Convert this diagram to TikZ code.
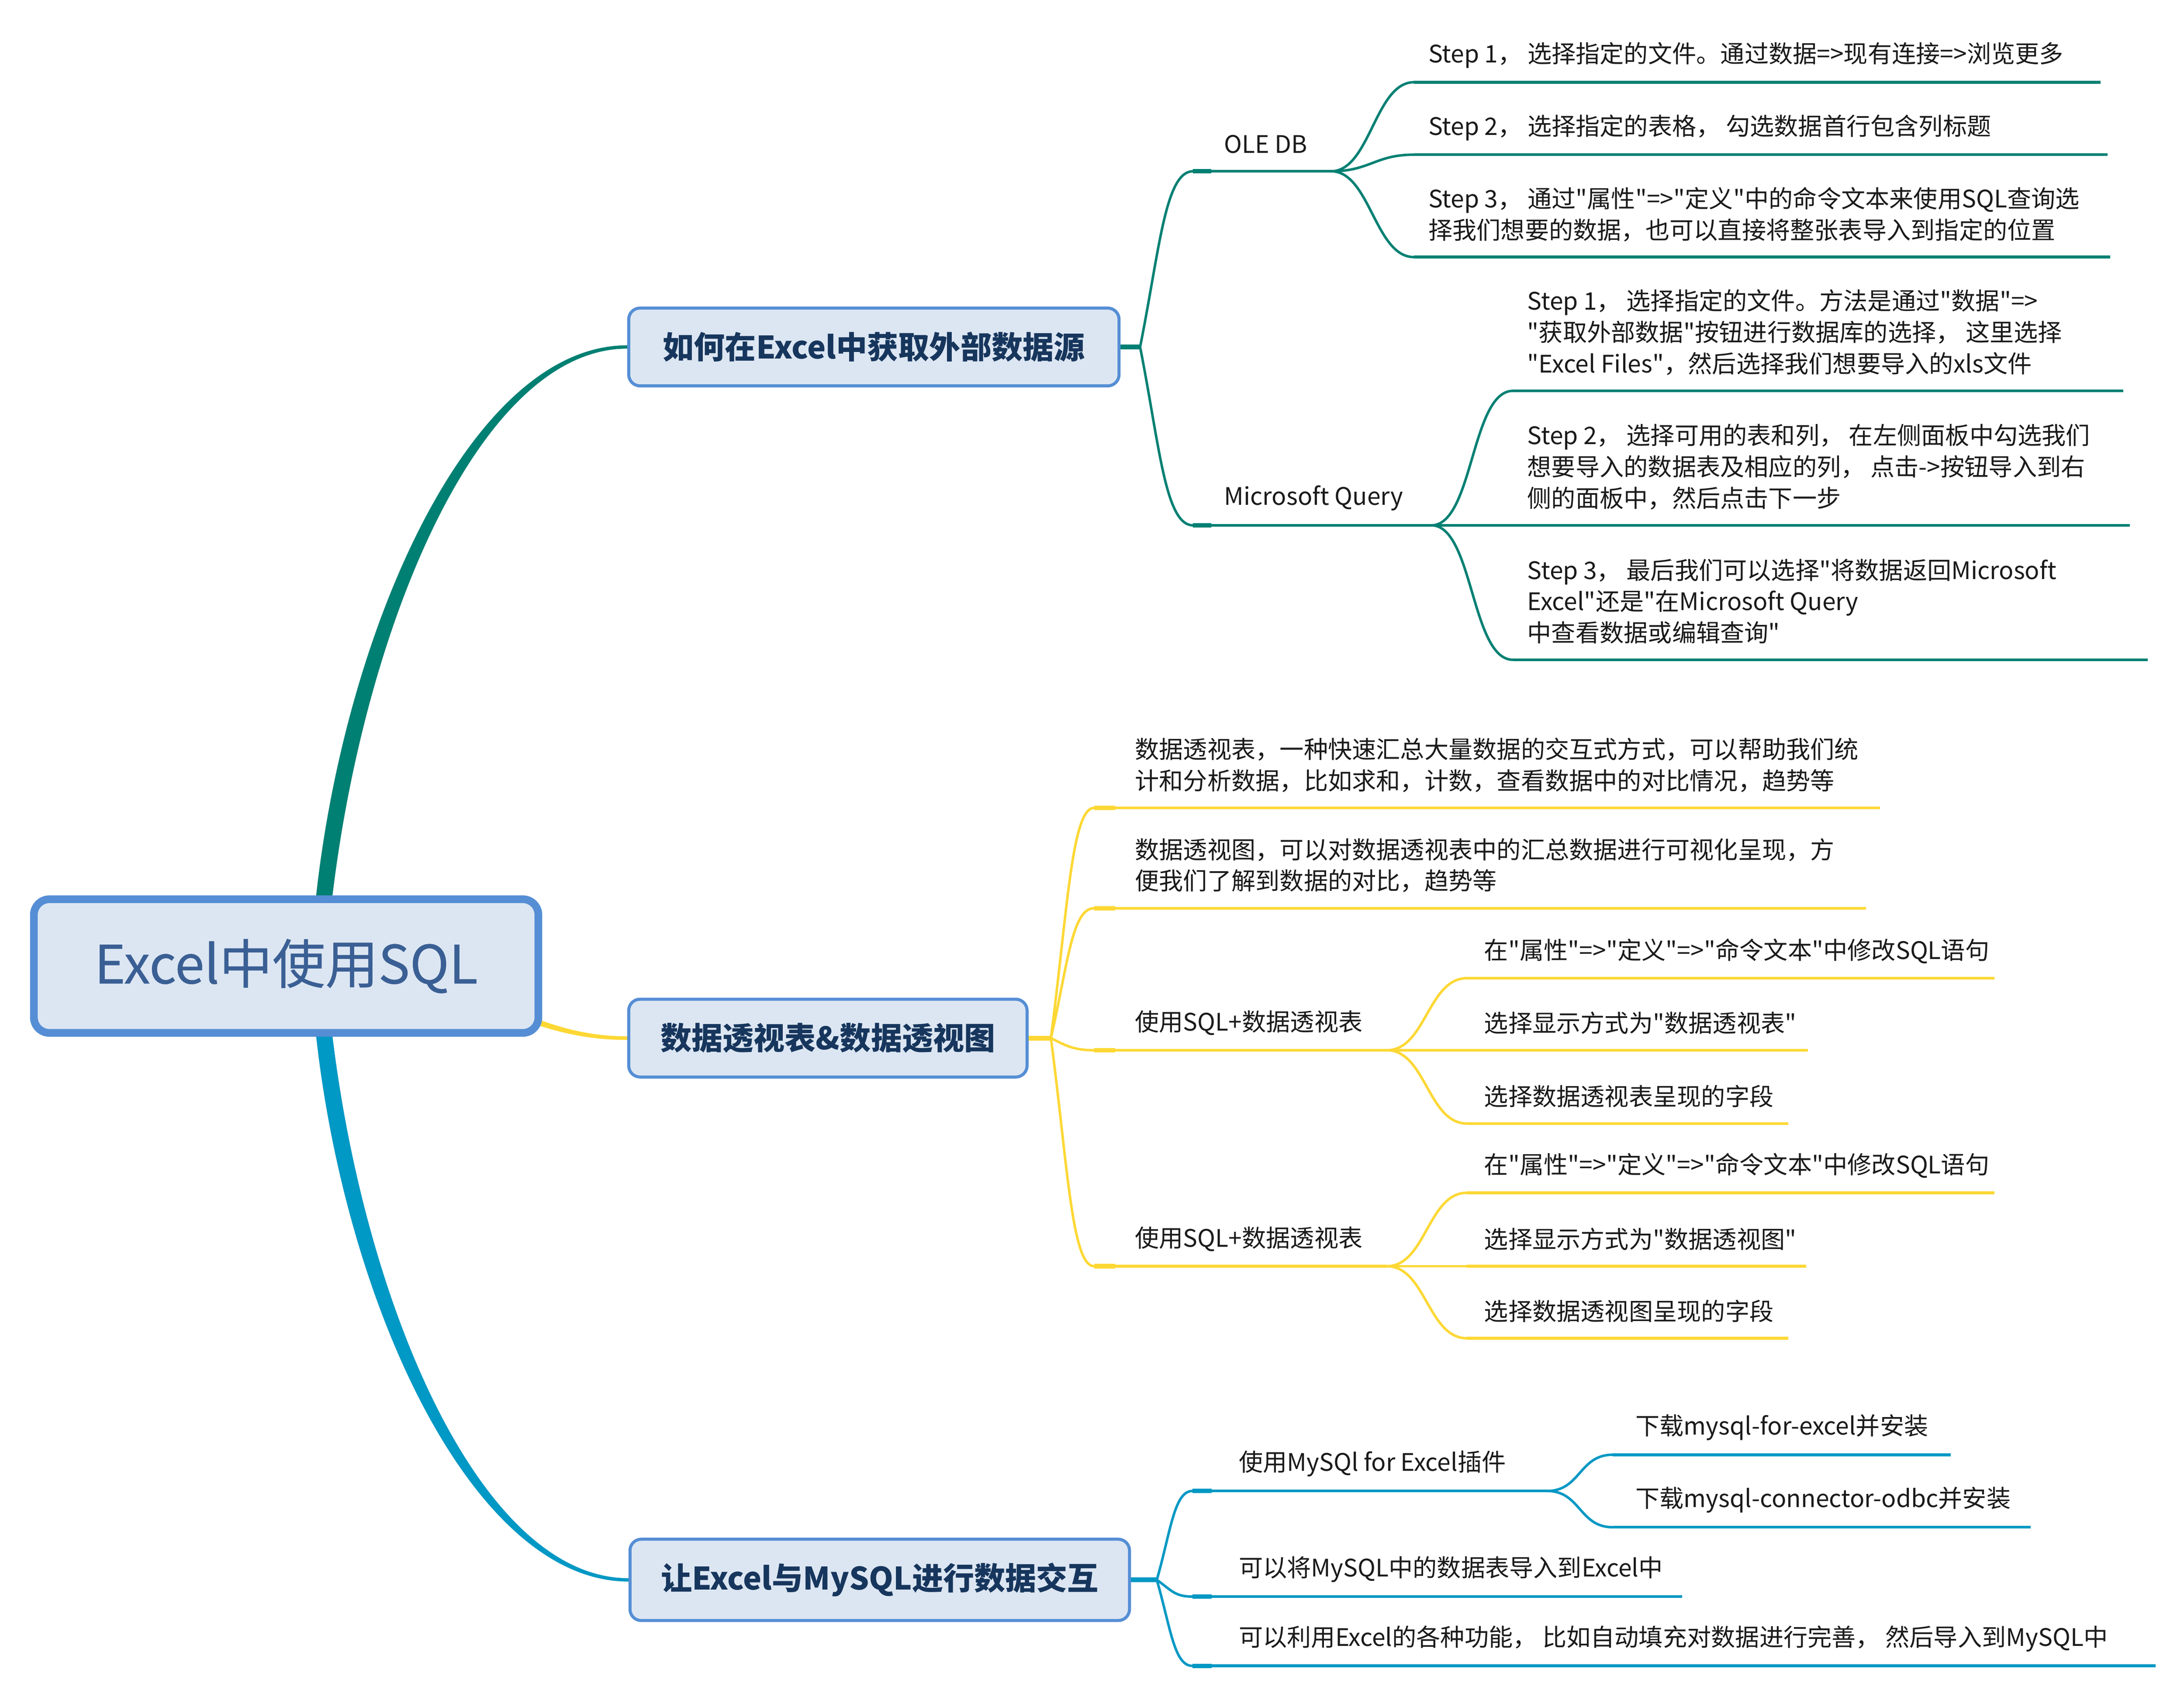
\documentclass[tikz,border=0pt]{standalone}
\usepackage{fontspec}
\newfontfamily\notosc{Noto Sans CJK SC}
\newfontfamily\notoscroot{Noto Sans CJK SC}[FakeBold=0.4]
\usetikzlibrary{calc,backgrounds}

\definecolor{tealline}{RGB}{0,128,115}
\definecolor{yellowline}{RGB}{253,216,53}
\definecolor{cyanline}{RGB}{0,152,196}
\definecolor{boxborder}{RGB}{85,142,213}
\definecolor{boxfill}{RGB}{220,230,242}
\definecolor{boxtext}{RGB}{23,54,93}
\definecolor{roottext}{RGB}{58,95,148}
\definecolor{leaftext}{RGB}{26,26,26}

\begin{document}
\begin{tikzpicture}[x=0.0197cm, y=-0.0197cm,
    rootbox/.style={draw=boxborder, fill=boxfill, line width=3.1pt, rounded corners=0.22cm,
        minimum width=7.13cm, minimum height=1.89cm, inner sep=0pt, text=roottext,
        font=\notoscroot\fontsize{21.3pt}{25pt}\selectfont},
    branchbox/.style={draw=boxborder, fill=boxfill, line width=1.23pt, rounded corners=0.16cm,
        inner sep=0pt, text=boxtext, font=\notosc\bfseries\fontsize{12.5pt}{15pt}\selectfont},
    leaf/.style={anchor=west, inner sep=0pt, align=left, text=leaftext,
        font=\notosc\fontsize{9.7pt}{12.6pt}\selectfont},
    stemline/.style={line width=1.96pt},
    twigline/.style={line width=1pt, line cap=round},
    topicline/.style={line width=1.15pt},
    capline/.style={line width=1.8pt}]

    \useasboundingbox (0,0) rectangle (1567,1217.6);

    % central topic and main branches
    \node[rootbox] (root) at (205.3,693.3) {Excel中使用SQL};
    \node[branchbox, minimum width=6.93cm, minimum height=1.10cm] (b1) at (627,249) {如何在Excel中获取外部数据源};
    \node[branchbox, minimum width=5.63cm, minimum height=1.10cm] (b2) at (594,745) {数据透视表\&数据透视图};
    \node[branchbox, minimum width=7.06cm, minimum height=1.15cm] (b3) at (631.2,1133.8) {让Excel与MySQL进行数据交互};

    % underline ends, branch 1
    \coordinate (j1) at (818,249);
    \coordinate (ole-a) at (856,122.9);   \coordinate (ole-b) at (955,122.9);
    \coordinate (o1a) at (1014.5,59);     \coordinate (o1b) at (1507,59);
    \coordinate (o2a) at (1014.5,111);    \coordinate (o2b) at (1512,111);
    \coordinate (o3a) at (1014.5,184.5);  \coordinate (o3b) at (1514,184.5);
    \coordinate (mq-a) at (856,377);      \coordinate (mq-b) at (1027,377);
    \coordinate (m1a) at (1085.5,280.5);  \coordinate (m1b) at (1523.5,280.5);
    \coordinate (m2a) at (1085.5,377);    \coordinate (m2b) at (1528,377);
    \coordinate (m3a) at (1085.5,473.5);  \coordinate (m3b) at (1541,473.5);

    % underline ends, branch 2
    \coordinate (j2) at (754,745);
    \coordinate (p1a) at (785,579.8);     \coordinate (p1b) at (1349,579.8);
    \coordinate (p2a) at (785,651.8);     \coordinate (p2b) at (1338.8,651.8);
    \coordinate (p3a) at (785,753.7);     \coordinate (p3b) at (995,753.7);
    \coordinate (q1a) at (1052.5,702);    \coordinate (q1b) at (1431,702);
    \coordinate (q2a) at (1052.5,753.7);  \coordinate (q2b) at (1297,753.7);
    \coordinate (q3a) at (1052.5,806.3);  \coordinate (q3b) at (1283,806.3);
    \coordinate (p4a) at (785,908.7);     \coordinate (p4b) at (995,908.7);
    \coordinate (r1a) at (1052.5,856);    \coordinate (r1b) at (1431,856);
    \coordinate (r2a) at (1052.5,908.7);  \coordinate (r2b) at (1296,908.7);
    \coordinate (r3a) at (1052.5,960.4);  \coordinate (r3b) at (1283,960.4);

    % underline ends, branch 3
    \coordinate (j3) at (830,1133.8);
    \coordinate (c1a) at (855.5,1070);    \coordinate (c1b) at (1110,1070);
    \coordinate (d1a) at (1157,1044);     \coordinate (d1b) at (1399.5,1044);
    \coordinate (d2a) at (1157,1096);     \coordinate (d2b) at (1457,1096);
    \coordinate (c2a) at (855.5,1145.8);  \coordinate (c2b) at (1207,1145.8);
    \coordinate (c3a) at (855.5,1195.5);  \coordinate (c3b) at (1546.6,1195.5);

    % topics of branch 1
    \node[leaf] (ole) at ($(ole-a)+(22,-19.5)$) {OLE DB};
    \node[leaf] (o1) at ($(o1a)+(10,-19.5)$) {Step 1， 选择指定的文件。通过数据=>现有连接=>浏览更多};
    \node[leaf] (o2) at ($(o2a)+(10,-19.5)$) {Step 2， 选择指定的表格， 勾选数据首行包含列标题};
    \node[leaf] (o3) at ($(o3a)+(10,-30.75)$) {Step 3， 通过"属性"=>"定义"中的命令文本来使用SQL查询选\\择我们想要的数据，也可以直接将整张表导入到指定的位置};
    \node[leaf] (mq) at ($(mq-a)+(22,-19.5)$) {Microsoft Query};
    \node[leaf] (m1) at ($(m1a)+(10,-42)$) {Step 1， 选择指定的文件。方法是通过"数据"=>\\"获取外部数据"按钮进行数据库的选择， 这里选择\\"Excel Files"，然后选择我们想要导入的xls文件};
    \node[leaf] (m2) at ($(m2a)+(10,-42)$) {Step 2， 选择可用的表和列， 在左侧面板中勾选我们\\想要导入的数据表及相应的列， 点击->按钮导入到右\\侧的面板中，然后点击下一步};
    \node[leaf] (m3) at ($(m3a)+(10,-42)$) {Step 3， 最后我们可以选择"将数据返回Microsoft\\Excel"还是"在Microsoft Query\\中查看数据或编辑查询"};

    % topics of branch 2
    \node[leaf] (p1) at ($(p1a)+(29,-30.75)$) {数据透视表，一种快速汇总大量数据的交互式方式，可以帮助我们统\\计和分析数据，比如求和，计数，查看数据中的对比情况，趋势等};
    \node[leaf] (p2) at ($(p2a)+(29,-30.75)$) {数据透视图，可以对数据透视表中的汇总数据进行可视化呈现，方\\便我们了解到数据的对比，趋势等};
    \node[leaf] (p3) at ($(p3a)+(29,-19.5)$) {使用SQL+数据透视表};
    \node[leaf] (q1) at ($(q1a)+(12,-19.5)$) {在"属性"=>"定义"=>"命令文本"中修改SQL语句};
    \node[leaf] (q2) at ($(q2a)+(12,-19.5)$) {选择显示方式为"数据透视表"};
    \node[leaf] (q3) at ($(q3a)+(12,-19.5)$) {选择数据透视表呈现的字段};
    \node[leaf] (p4) at ($(p4a)+(29,-19.5)$) {使用SQL+数据透视表};
    \node[leaf] (r1) at ($(r1a)+(12,-19.5)$) {在"属性"=>"定义"=>"命令文本"中修改SQL语句};
    \node[leaf] (r2) at ($(r2a)+(12,-19.5)$) {选择显示方式为"数据透视图"};
    \node[leaf] (r3) at ($(r3a)+(12,-19.5)$) {选择数据透视图呈现的字段};

    % topics of branch 3
    \node[leaf] (c1) at ($(c1a)+(33,-19.5)$) {使用MySQl for Excel插件};
    \node[leaf] (d1) at ($(d1a)+(16,-19.5)$) {下载mysql-for-excel并安装};
    \node[leaf] (d2) at ($(d2a)+(16,-19.5)$) {下载mysql-connector-odbc并安装};
    \node[leaf] (c2) at ($(c2a)+(33,-19.5)$) {可以将MySQL中的数据表导入到Excel中};
    \node[leaf] (c3) at ($(c3a)+(33,-19.5)$) {可以利用Excel的各种功能， 比如自动填充对数据进行完善， 然后导入到MySQL中};

    \begin{scope}[on background layer]
    \fill[white] (0,0) rectangle (1567,1217.6);
    \coordinate (rs) at ($(root.center)+(23,0)$);

    % tapered connectors from the central topic
    \fill[tealline] ($(rs)+(-5.5,0)$) .. controls +(10,-209) and +(-121,0) .. ($(b1.west)+(0,-1.2)$)
        -- ($(b1.west)+(0,1.2)$) .. controls +(-115,0) and +(14,-209) .. ($(rs)+(5.5,0)$) -- cycle;
    \fill[yellowline] ($(root.center)+(125,16.5)$) .. controls +(40,13) and +(-50,0) .. ($(b2.west)+(0,-1.3)$)
        -- ($(b2.west)+(0,1.3)$) .. controls +(-50,0) and +(40,13) .. ($(root.center)+(125,22.5)$) -- cycle;
    \fill[cyanline] ($(rs)+(-5.5,0)$) .. controls +(10,209) and +(-121,0) .. ($(b3.west)+(0,1.2)$)
        -- ($(b3.west)+(0,-1.2)$) .. controls +(-115,0) and +(14,209) .. ($(rs)+(5.5,0)$) -- cycle;

    % branch 1
    \draw[tealline, stemline] (b1.east) -- (j1);
    \draw[tealline, twigline] (j1) .. controls +(14,-70) and +(-20,0) .. (ole-a);
    \draw[tealline, twigline] (j1) .. controls +(14,71) and +(-20,0) .. (mq-a);
    \draw[tealline, topicline] (ole-a) -- (ole-b);
    \draw[tealline, topicline] (mq-a) -- (mq-b);
    \draw[tealline, capline] (ole-a) -- +(13,0);
    \draw[tealline, capline] (mq-a) -- +(13,0);
    \draw[tealline, twigline] (ole-b) .. controls +(28,0) and +(-28,0) .. (o1a);
    \draw[tealline, twigline] (ole-b) .. controls +(28,0) and +(-28,0) .. (o2a);
    \draw[tealline, twigline] (ole-b) .. controls +(28,0) and +(-28,0) .. (o3a);
    \draw[tealline, topicline] (o1a) -- (o1b);
    \draw[tealline, topicline] (o2a) -- (o2b);
    \draw[tealline, topicline] (o3a) -- (o3b);
    \draw[tealline, twigline] (mq-b) .. controls +(30,0) and +(-30,0) .. (m1a);
    \draw[tealline, twigline] (mq-b) -- (m2a);
    \draw[tealline, twigline] (mq-b) .. controls +(30,0) and +(-30,0) .. (m3a);
    \draw[tealline, topicline] (m1a) -- (m1b);
    \draw[tealline, topicline] (m2a) -- (m2b);
    \draw[tealline, topicline] (m3a) -- (m3b);

    % branch 2
    \draw[yellowline, stemline] (b2.east) -- (j2);
    \draw[yellowline, twigline] (j2) .. controls +(12,-92) and +(-16,0) .. (p1a);
    \draw[yellowline, twigline] (j2) .. controls +(12,-52) and +(-16,0) .. (p2a);
    \draw[yellowline, twigline] (j2) .. controls +(10,5) and +(-15,0) .. (p3a);
    \draw[yellowline, twigline] (j2) .. controls +(12,91) and +(-16,0) .. (p4a);
    \draw[yellowline, topicline] (p1a) -- (p1b);
    \draw[yellowline, topicline] (p2a) -- (p2b);
    \draw[yellowline, topicline] (p3a) -- (p3b);
    \draw[yellowline, topicline] (p4a) -- (p4b);
    \draw[yellowline, capline] (p1a) -- +(15,0);
    \draw[yellowline, capline] (p2a) -- +(15,0);
    \draw[yellowline, capline] (p3a) -- +(15,0);
    \draw[yellowline, capline] (p4a) -- +(15,0);
    \draw[yellowline, twigline] (p3b) .. controls +(28,0) and +(-28,0) .. (q1a);
    \draw[yellowline, twigline] (p3b) -- (q2a);
    \draw[yellowline, twigline] (p3b) .. controls +(28,0) and +(-28,0) .. (q3a);
    \draw[yellowline, topicline] (q1a) -- (q1b);
    \draw[yellowline, topicline] (q2a) -- (q2b);
    \draw[yellowline, topicline] (q3a) -- (q3b);
    \draw[yellowline, twigline] (p4b) .. controls +(28,0) and +(-28,0) .. (r1a);
    \draw[yellowline, twigline] (p4b) -- (r2a);
    \draw[yellowline, twigline] (p4b) .. controls +(28,0) and +(-28,0) .. (r3a);
    \draw[yellowline, topicline] (r1a) -- (r1b);
    \draw[yellowline, topicline] (r2a) -- (r2b);
    \draw[yellowline, topicline] (r3a) -- (r3b);

    % branch 3
    \draw[cyanline, stemline] (b3.east) -- (j3);
    \draw[cyanline, twigline] (j3) .. controls +(10,-35) and +(-13,0) .. (c1a);
    \draw[cyanline, twigline] (j3) .. controls +(10,7) and +(-13,0) .. (c2a);
    \draw[cyanline, twigline] (j3) .. controls +(10,35) and +(-13,0) .. (c3a);
    \draw[cyanline, topicline] (c1a) -- (c1b);
    \draw[cyanline, topicline] (c2a) -- (c2b);
    \draw[cyanline, topicline] (c3a) -- (c3b);
    \draw[cyanline, capline] (c1a) -- +(14,0);
    \draw[cyanline, capline] (c2a) -- +(14,0);
    \draw[cyanline, capline] (c3a) -- +(14,0);
    \draw[cyanline, twigline] (c1b) .. controls +(24,0) and +(-24,0) .. (d1a);
    \draw[cyanline, twigline] (c1b) .. controls +(24,0) and +(-24,0) .. (d2a);
    \draw[cyanline, topicline] (d1a) -- (d1b);
    \draw[cyanline, topicline] (d2a) -- (d2b);
    \end{scope}
\end{tikzpicture}
\end{document}
